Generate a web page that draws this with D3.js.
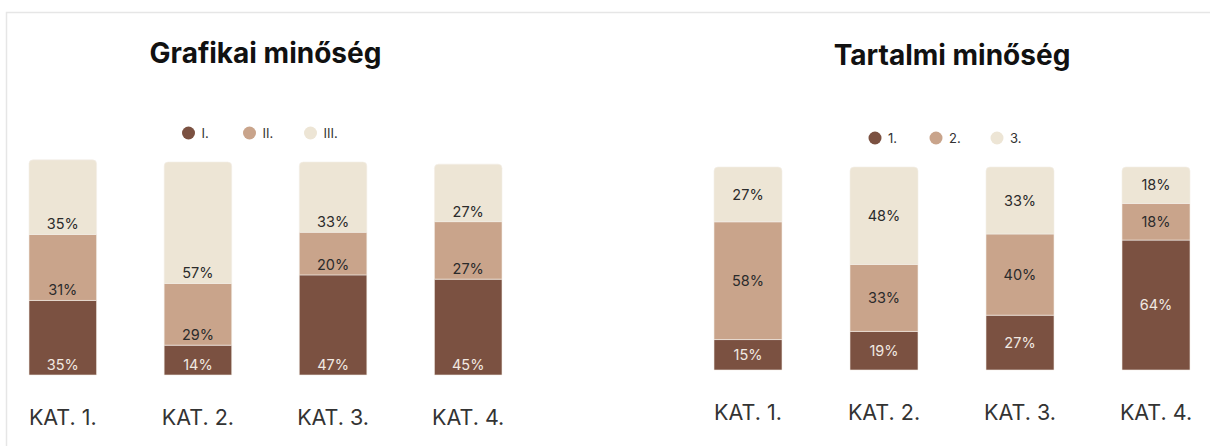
<!DOCTYPE html>
<html>
<head>
<meta charset="utf-8">
<script src="https://cdn.jsdelivr.net/npm/d3@7"></script>
<style>
    body { margin: 0; background: #fff; }
    svg { display: block; font-family: Inter, Roboto, sans-serif; }
</style>
</head>
<body>
<div id="chart"></div>
<script>
// Category labels shared by both panels
const categories = ["KAT. 1.", "KAT. 2.", "KAT. 3.", "KAT. 4."];

// Left panel: Grafikai minőség
const graphicTitle = "Grafikai minőség";
const graphicLegend = ["I.", "II.", "III."];
const graphicI = [35, 14, 47, 45];
const graphicII = [31, 29, 20, 27];
const graphicIII = [35, 57, 33, 27];

// Right panel: Tartalmi minőség
const contentTitle = "Tartalmi minőség";
const contentLegend = ["1.", "2.", "3."];
const content1 = [15, 19, 27, 64];
const content2 = [58, 33, 40, 18];
const content3 = [27, 48, 33, 18];

const colors = ["#7b5141", "#c9a48b", "#ede5d5"];
const labelColors = ["#f1e9e2", "#2b2b2b", "#2b2b2b"];

const width = 1210, height = 446;

const svg = d3.select('#chart').append('svg')
    .attr('width', width)
    .attr('height', height);

// card border (top and left edge visible)
svg.append('path')
    .attr('d', `M6.5,${height} V12.5 H${width}`)
    .attr('fill', 'none')
    .attr('stroke', '#e6e6e6')
    .attr('stroke-width', 1.5);

// rect with rounded top corners only
function topRounded(x, y, w, h, r) {
    r = Math.min(r, h);
    return `M${x},${y + h} V${y + r} Q${x},${y} ${x + r},${y} H${x + w - r} Q${x + w},${y} ${x + w},${y + r} V${y + h} Z`;
}

function drawPanel(opts) {
    const series = opts.series;
    const x = d3.scaleBand()
        .domain(categories)
        .range(opts.xRange)
        .paddingInner(0.5)
        .paddingOuter(0);
    const y = d3.scaleLinear()
        .domain([0, 100])
        .range(opts.yRange);

    const cx = (opts.xRange[0] + opts.xRange[1]) / 2;

    // title
    svg.append('text')
        .attr('x', cx)
        .attr('y', opts.titleY)
        .attr('text-anchor', 'middle')
        .attr('font-size', 28)
        .attr('font-weight', 700)
        .attr('fill', '#111')
        .text(opts.title);

    // legend
    const legendStep = 61;
    const legend = svg.append('g')
        .attr('transform', `translate(${cx - legendStep - 16}, ${opts.legendY})`);
    opts.legend.forEach((name, i) => {
        const g = legend.append('g').attr('transform', `translate(${i * legendStep}, 0)`);
        g.append('circle').attr('r', 6.5).attr('fill', colors[i]);
        g.append('text')
            .attr('x', 13)
            .attr('dy', '0.36em')
            .attr('font-size', 13)
            .attr('fill', '#333')
            .text(name);
    });

    // stack the series
    const rows = categories.map((c, i) => {
        const row = { cat: c };
        series.forEach((s, k) => row['s' + k] = s[i]);
        return row;
    });
    const keys = series.map((s, k) => 's' + k);
    const stacked = d3.stack().keys(keys)(rows);

    const bars = svg.append('g');
    stacked.forEach((layer, k) => {
        const isTop = k === stacked.length - 1;
        bars.selectAll(null)
            .data(layer)
            .enter()
            .append('path')
            .attr('d', d => {
                const x0 = x(d.data.cat), w = x.bandwidth();
                const y0 = y(d[1]), h = y(d[0]) - y(d[1]);
                return isTop ? topRounded(x0, y0, w, h, 4) : `M${x0},${y0}h${w}v${h}h${-w}Z`;
            })
            .attr('fill', colors[k])
            .attr('stroke', '#f4eee8')
            .attr('stroke-width', 0.6);

        bars.selectAll(null)
            .data(layer)
            .enter()
            .append('text')
            .attr('x', d => x(d.data.cat) + x.bandwidth() / 2)
            .attr('y', d => opts.labelAtBottom ? y(d[0]) - 5 : (y(d[0]) + y(d[1])) / 2)
            .attr('dy', opts.labelAtBottom ? 0 : '0.36em')
            .attr('text-anchor', 'middle')
            .attr('font-size', 14.5)
            .attr('fill', labelColors[k])
            .text(d => `${d[1] - d[0]}%`);
    });

    // category labels
    svg.append('g')
        .selectAll('text')
        .data(categories)
        .enter()
        .append('text')
        .attr('x', d => x(d) + x.bandwidth() / 2)
        .attr('y', opts.catY)
        .attr('text-anchor', 'middle')
        .attr('font-size', 21.5)
        .attr('fill', '#333')
        .text(d => d);
}

drawPanel({
    title: graphicTitle,
    legend: graphicLegend,
    series: [graphicI, graphicII, graphicIII],
    xRange: [29, 502],
    yRange: [375, 162],
    titleY: 63,
    legendY: 133,
    catY: 425,
    labelAtBottom: true
});

drawPanel({
    title: contentTitle,
    legend: contentLegend,
    series: [content1, content2, content3],
    xRange: [714, 1190],
    yRange: [370, 167],
    titleY: 65,
    legendY: 138,
    catY: 420,
    labelAtBottom: false
});
</script>
</body>
</html>
